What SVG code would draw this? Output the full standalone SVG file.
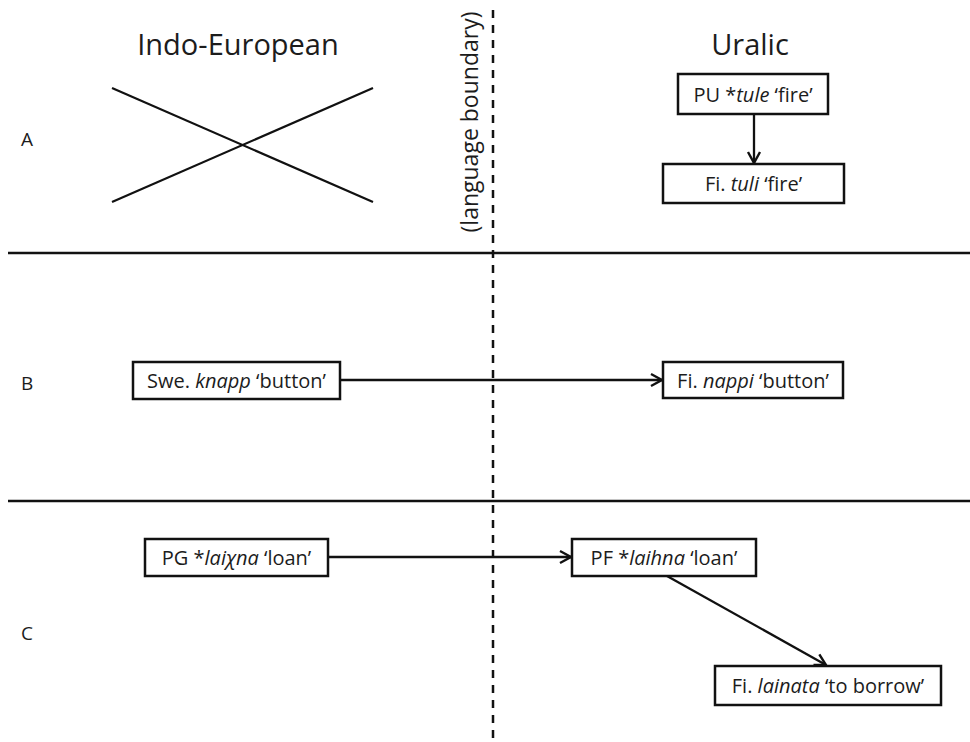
<svg xmlns="http://www.w3.org/2000/svg" width="970" height="742" viewBox="0 0 970 742">
  <style>
    text { font-family: "Open Sans", "Liberation Sans", sans-serif; fill: #1c1c1c; }
    .title { font-size: 29px; text-anchor: middle; }
    .row { font-size: 19px; }
    .lbl { font-size: 20px; text-anchor: middle; }
    .note { font-size: 23px; text-anchor: middle; }
    .box { fill: #ffffff; stroke: #111111; stroke-width: 2.5; }
    .rule { stroke: #111111; stroke-width: 2.5; fill: none; }
    .cross { stroke: #111111; stroke-width: 2.2; fill: none; }
    .edge { stroke: #111111; stroke-width: 2.3; fill: none; marker-end: url(#arrow); }
    .dash { stroke: #111111; stroke-width: 2.5; stroke-dasharray: 8 7; fill: none; }
  </style>
  <defs>
    <marker id="arrow" markerUnits="userSpaceOnUse" markerWidth="16" markerHeight="16" viewBox="0 0 16 16" refX="14" refY="8" orient="auto">
      <path d="M3,2 L14,8 L3,14" fill="none" stroke="#111111" stroke-width="2.4"/>
    </marker>
  </defs>

  <rect width="970" height="742" fill="#ffffff"/>

  <!-- column headings -->
  <text class="title" x="238" y="55">Indo-European</text>
  <text class="title" x="750" y="55">Uralic</text>

  <!-- row letters -->
  <text class="row" x="21" y="146">A</text>
  <text class="row" x="21" y="390">B</text>
  <text class="row" x="21" y="640">C</text>

  <!-- section rules and the language boundary -->
  <line class="rule" x1="8" y1="253" x2="970" y2="253"/>
  <line class="rule" x1="8" y1="501" x2="970" y2="501"/>
  <line class="dash" x1="493" y1="10" x2="493" y2="742"/>
  <text class="note" transform="translate(478,122) rotate(-90)">(language boundary)</text>

  <!-- no Indo-European source in row A -->
  <g id="no-source">
    <line class="cross" x1="112" y1="88" x2="373" y2="202"/>
    <line class="cross" x1="112" y1="202" x2="373" y2="88"/>
  </g>

  <!-- connectors -->
  <g id="connectors">
    <line class="edge" x1="754" y1="114" x2="754" y2="163"/>
    <line class="edge" x1="340" y1="380" x2="662" y2="380"/>
    <line class="edge" x1="328" y1="557" x2="571" y2="557"/>
    <line class="edge" x1="667" y1="576" x2="826" y2="665"/>
  </g>

  <!-- nodes -->
  <g id="pu-tule">
    <rect class="box" x="678" y="74" width="150" height="40"/>
    <text class="lbl" x="753" y="101.5">PU *<tspan font-style="italic">tule</tspan> ‘fire’</text>
  </g>
  <g id="fi-tuli">
    <rect class="box" x="663" y="164" width="181" height="39"/>
    <text class="lbl" x="753.5" y="191">Fi. <tspan font-style="italic">tuli</tspan> ‘fire’</text>
  </g>
  <g id="swe-knapp">
    <rect class="box" x="133" y="362" width="207" height="37"/>
    <text class="lbl" x="236.5" y="388">Swe. <tspan font-style="italic">knapp</tspan> ‘button’</text>
  </g>
  <g id="fi-nappi">
    <rect class="box" x="663" y="362" width="180" height="36"/>
    <text class="lbl" x="753" y="387.5">Fi. <tspan font-style="italic">nappi</tspan> ‘button’</text>
  </g>
  <g id="pg-laixna">
    <rect class="box" x="145" y="539" width="183" height="37"/>
    <text class="lbl" x="236.5" y="565">PG *<tspan font-style="italic">laiχna</tspan> ‘loan’</text>
  </g>
  <g id="pf-laihna">
    <rect class="box" x="572" y="539" width="184" height="37"/>
    <text class="lbl" x="664" y="565">PF *<tspan font-style="italic">laihna</tspan> ‘loan’</text>
  </g>
  <g id="fi-lainata">
    <rect class="box" x="715" y="666" width="226" height="39"/>
    <text class="lbl" x="828" y="693">Fi. <tspan font-style="italic">lainata</tspan> ‘to borrow’</text>
  </g>
</svg>
